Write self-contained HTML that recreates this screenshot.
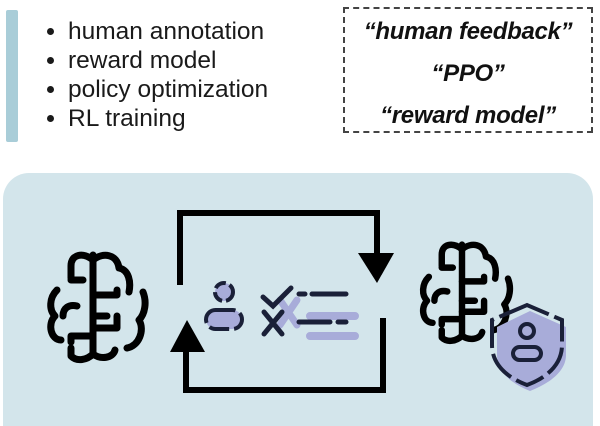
<!DOCTYPE html>
<html><head><meta charset="utf-8"><style>
html,body{margin:0;padding:0;background:#fff;width:600px;height:426px;overflow:hidden;position:relative;font-family:"Liberation Sans",sans-serif}
.bar{position:absolute;left:6px;top:10px;width:12px;height:132px;background:#a9cdd8;border-radius:2px}
ul{position:absolute;left:42px;top:17px;margin:0;padding-left:26px;font-size:24.5px;line-height:29px;color:#1a1a1a}
.box{position:absolute;left:343px;top:7px;width:246px;height:122px;border:2px dashed #444}
.q{position:absolute;left:0;width:246px;text-align:center;font-weight:bold;font-style:italic;font-size:24px;color:#111;letter-spacing:-0.3px}
.panel{position:absolute;left:3px;top:173px;width:590px;height:253px;background:#d3e5eb;border-radius:26px 26px 0 0}
svg{position:absolute;left:0;top:0}
</style></head><body>
<div class="bar"></div>
<ul><li>human annotation</li><li>reward model</li><li>policy optimization</li><li>RL training</li></ul>
<div class="box">
<div class="q" style="top:9px">“human feedback”</div>
<div class="q" style="top:51px">“PPO”</div>
<div class="q" style="top:93px">“reward model”</div>
</div>
<div class="panel"></div>
<svg width="600" height="426" viewBox="0 0 600 426">
<defs>
<g id="brain" fill="none" stroke="#000" stroke-width="7" stroke-linecap="round" stroke-linejoin="round">
<path d="M50 5 V102"/>
<path d="M50 10 C40 2 28 4 28 16 V28"/>
<path d="M50 10 C60 2 74 4 76 18 C86 20 88 32 86 42"/>
<path d="M14 40 C6 48 6 60 12 66 C4 74 8 90 18 90"/>
<path d="M100 42 C104 52 102 64 96 70 C102 80 96 96 84 98"/>
<path d="M28 98 V106 C34 112 44 110 50 104"/>
<path d="M50 104 C58 110 70 108 72 100"/>
<path d="M28 30 H40"/>
<path d="M50 45 H74 V40"/>
<path d="M20 66 C20 58 26 54 34 56"/>
<path d="M50 66 H64"/>
<path d="M50 78 H74 V66"/>
<path d="M28 92 V86 H48"/>
</g>
</defs>
<use href="#brain" transform="translate(43,250)"/>
<g transform="translate(416,240) scale(0.92)"><use href="#brain"/></g>
<g stroke="#000" stroke-width="6" fill="none">
<path d="M180 285 V213 H377 V255"/>
<path d="M383 318 V390 H186 V350"/>
</g>
<path d="M358 253 H394 L377 283 Z" fill="#000"/>
<path d="M170 352 H205 L187 320 Z" fill="#000"/>
<circle cx="224" cy="292" r="9" fill="#a8acd9" stroke="#1a2038" stroke-width="4" stroke-dasharray="12 4"/>
<rect x="206" y="310" width="36" height="19" rx="9.5" fill="#a8acd9" stroke="#1a2038" stroke-width="4" stroke-dasharray="20 5"/>
<g stroke-linecap="round" fill="none">
<path d="M280 300 L297 325 M297 300 L280 325" stroke="#a8acd9" stroke-width="7"/>
<path d="M310 316 H355 M310 336 H355" stroke="#a8acd9" stroke-width="8"/>
<path d="M263 297 L273 306 L291 288" stroke="#1a2038" stroke-width="5"/>
<path d="M299 294 H305 M312 294 H346" stroke="#1a2038" stroke-width="5"/>
<path d="M264 312 L282 334 M282 312 L264 334" stroke="#1a2038" stroke-width="5"/>
<path d="M299 322 H330 M338 322 H346" stroke="#1a2038" stroke-width="5"/>
</g>
<path d="M530 311 L566 327 V355 C566 372 548 384 530 391 C512 384 497 372 497 355 V327 Z" fill="#a8acd9"/>
<path d="M527 305 L492 320 V345 C492 365 508 378 527 385 C546 378 562 365 562 345 V320 Z" fill="none" stroke="#1a2038" stroke-width="4" stroke-dasharray="30 6"/>
<circle cx="527" cy="331" r="7" fill="none" stroke="#1a2038" stroke-width="4"/>
<rect x="513" y="347" width="28" height="13" rx="6.5" fill="none" stroke="#1a2038" stroke-width="4"/>
</svg>
</body></html>
